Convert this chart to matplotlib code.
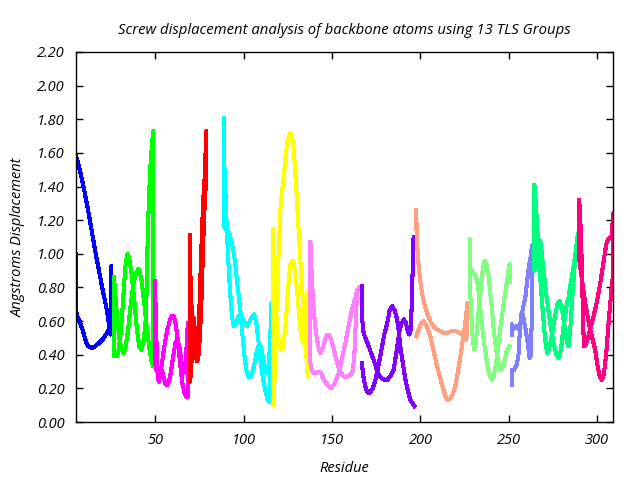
import matplotlib
matplotlib.use("Agg")
import matplotlib.pyplot as plt

plt.rcParams['font.family'] = ['Open Sans', 'DejaVu Sans']
plt.rcParams['font.style'] = 'italic'

TITLE = "Screw displacement analysis of backbone atoms using 13 TLS Groups"
X_LABEL = "Residue"
Y_LABEL = "Angstroms Displacement"

X_TICKS = [50, 100, 150, 200, 250, 300]
Y_TICKS = [0.0, 0.2, 0.4, 0.6, 0.8, 1.0, 1.2, 1.4, 1.6, 1.8, 2.0, 2.2]

# (residue, displacement) traces for each TLS group, in drawing order
blue = [(5.0, 1.58), (6, 1.55), (8, 1.46), (10, 1.36), (12, 1.25), (14, 1.13), (16, 1.01),
        (18, 0.90), (20, 0.79), (22, 0.69), (23, 0.63), (24, 0.56), (24.5, 0.52), (25, 0.93),
        (25, 0.55), (24, 0.56), (23, 0.54), (22, 0.52), (20, 0.49), (18, 0.47), (16, 0.45),
        (14, 0.44), (12, 0.45), (11, 0.47), (10, 0.50), (9, 0.54), (8, 0.57), (7, 0.60),
        (6, 0.62), (5.4, 0.65), (5.2, 0.60), (5.2, 1.00)]

green = [(26.5, 0.86), (27.5, 0.72), (28.5, 0.60), (29.5, 0.50), (30.5, 0.44), (31.8, 0.41),
         (33, 0.44), (34.5, 0.55), (36, 0.70), (37.5, 0.82), (39, 0.89), (40.6, 0.91), (42, 0.85),
         (43.5, 0.72), (45, 0.57), (46.5, 0.44), (47.8, 0.36), (48.7, 0.33),
         (48.7, 1.73), (47.8, 1.62), (47, 1.50), (46.2, 1.30), (45.5, 1.05), (45, 0.78),
         (44.3, 0.58), (43.3, 0.48), (42, 0.43), (40.8, 0.45), (39.5, 0.55), (38, 0.72),
         (36.5, 0.88), (35.2, 0.97), (34, 1.00), (33, 0.93), (32, 0.78), (31, 0.62), (30, 0.50),
         (29, 0.42), (28, 0.39), (26.5, 0.39), (26.5, 0.86)]

magenta = [(49.7, 0.84), (50.2, 0.62), (50.7, 0.42), (51.2, 0.29), (51.8, 0.24), (52.6, 0.27),
           (53.8, 0.36), (55, 0.45), (56.5, 0.54), (58, 0.60), (59.3, 0.63), (60.4, 0.63),
           (61.5, 0.58), (62.8, 0.47), (64, 0.34), (65.2, 0.23), (66.5, 0.17), (67.6, 0.15),
           (68.3, 0.15), (68.3, 0.59), (67.6, 0.45), (66.8, 0.33), (66, 0.29), (65, 0.33),
           (63.8, 0.43), (62.5, 0.49), (61.3, 0.47), (60, 0.39), (58.8, 0.30), (57.6, 0.24),
           (56.5, 0.22), (55.5, 0.23), (54.5, 0.27), (53.5, 0.31), (52.5, 0.31), (51.5, 0.29),
           (50.5, 0.31), (49.7, 0.35), (49.7, 0.84)]

red = [(69.3, 1.11), (69.6, 0.95), (70, 0.78), (70.5, 0.66), (71, 0.57), (71.7, 0.48),
       (72.3, 0.40), (73, 0.38), (73.7, 0.40), (74.3, 0.52), (75, 0.72), (75.7, 0.95),
       (76.4, 1.15), (77, 1.32), (77.6, 1.40), (78.2, 1.55), (78.7, 1.73),
       (78.7, 1.45), (78.3, 1.38), (77.8, 1.28), (77.2, 1.12), (76.6, 0.92), (76, 0.72),
       (75.4, 0.57), (74.8, 0.45), (74.2, 0.38), (73.5, 0.36), (72.8, 0.42), (72.2, 0.55),
       (71.6, 0.62), (71, 0.52), (70.5, 0.38), (70, 0.28), (69.5, 0.24), (69.3, 1.11)]

cyan = [(88.7, 1.81), (88.7, 1.61), (89.3, 1.45), (89.8, 1.30), (90.4, 1.15), (91, 1.00),
        (91.8, 0.85), (92.6, 0.72), (93.4, 0.62), (94.3, 0.57), (95.5, 0.58), (96.8, 0.63),
        (98.1, 0.64), (100, 0.60), (101.9, 0.57), (103.8, 0.61), (105.7, 0.64), (107, 0.60),
        (108.3, 0.48), (109.6, 0.35), (111, 0.25), (112.5, 0.17), (113.6, 0.13), (114.5, 0.12),
        (115.7, 0.71), (115.2, 0.57), (114.6, 0.42), (113.8, 0.32), (112.8, 0.29), (111.7, 0.33),
        (110.6, 0.40), (109.5, 0.45), (108.5, 0.46), (107.5, 0.43), (106.3, 0.36), (105, 0.30),
        (103.8, 0.27), (102.5, 0.27), (101.4, 0.31), (100.3, 0.40), (99.2, 0.52), (98.1, 0.66),
        (97, 0.76), (96, 0.85), (95.2, 0.94), (94.3, 1.00), (93, 1.08), (91.8, 1.12),
        (90.5, 1.14), (89.5, 1.15), (88.7, 1.17), (88.7, 1.81)]

yellow = [(116.4, 1.15), (117.4, 0.86), (118.5, 0.63), (119.6, 0.50), (120.8, 0.43),
          (121.7, 0.43), (122.6, 0.48), (123.6, 0.57), (124.6, 0.72), (125.5, 0.86),
          (126.5, 0.94), (127.7, 0.96), (128.8, 0.91), (129.8, 0.82), (130.8, 0.70),
          (131.7, 0.59), (132.7, 0.50), (133.6, 0.47), (134.3, 0.52), (134.9, 0.59),
          (135.9, 0.70), (136.8, 0.80),
          (136.4, 0.27), (135.9, 0.31), (135, 0.47), (134, 0.63), (133, 0.80), (132, 0.96),
          (131.1, 1.13), (130.2, 1.30), (129.2, 1.47), (128.3, 1.62), (127.4, 1.69),
          (126.4, 1.72), (125.5, 1.70), (124.5, 1.66), (123.5, 1.56), (122.6, 1.46),
          (121.7, 1.37), (120.8, 1.28), (119.8, 1.02), (118.9, 0.82), (118, 0.47), (117, 0.11),
          (116.5, 0.10), (116.4, 1.15)]

pink = [(137.7, 1.07), (138.3, 0.90), (139, 0.76), (139.6, 0.67), (140.5, 0.56), (141.5, 0.49),
        (142.5, 0.43), (143.4, 0.41), (144.5, 0.43), (146, 0.49), (147, 0.52), (148.1, 0.52),
        (149.5, 0.49), (151, 0.43), (152.8, 0.35), (154.5, 0.30), (156.6, 0.27), (158.5, 0.27),
        (160.3, 0.28), (161.5, 0.30), (162.5, 0.38), (163.2, 0.55), (163.8, 0.70), (164.3, 0.78),
        (165.4, 0.80), (164.8, 0.79), (164.1, 0.78), (163, 0.73), (161.3, 0.67), (159.5, 0.58),
        (157.5, 0.47), (155.6, 0.38), (153.7, 0.29), (151.5, 0.23), (149.4, 0.20), (147.5, 0.22),
        (145.2, 0.25), (143.8, 0.29), (142.4, 0.30), (141, 0.29), (139.6, 0.29), (138.5, 0.31),
        (137.7, 0.35), (137.7, 1.07)]

purple_a = [(166.9, 0.81), (166.9, 0.62), (167.8, 0.53), (169.2, 0.49), (170.7, 0.45), (172, 0.41),
            (173.5, 0.37), (175, 0.32), (176.4, 0.28), (178, 0.26), (179.5, 0.25), (181.1, 0.25),
            (182.8, 0.27), (184.8, 0.31), (186.5, 0.42), (187.8, 0.52), (189, 0.58), (190.5, 0.61),
            (191.8, 0.59), (193, 0.53), (193.8, 0.52), (194.6, 0.56), (195.2, 0.75), (195.7, 0.95),
            (196.1, 1.10)]
purple_b = [(196.5, 0.095), (195.5, 0.11), (194.3, 0.13), (193, 0.18), (191.5, 0.25), (190, 0.35),
            (188.6, 0.45), (187.6, 0.55), (186.8, 0.61), (185.5, 0.66), (184, 0.69), (182.5, 0.66),
            (181, 0.58), (179.5, 0.52), (178.3, 0.45), (176.5, 0.35), (174.5, 0.25), (173, 0.20),
            (171.1, 0.17), (169.8, 0.18), (168.8, 0.21), (167.5, 0.28), (166.9, 0.35)]

salmon_a = [(197.7, 1.26), (197.8, 1.10), (198.5, 1.00), (199, 0.92), (200, 0.83), (201, 0.76),
            (202.5, 0.69), (204, 0.64), (206, 0.59), (208, 0.56), (211, 0.54), (213, 0.53),
            (215, 0.53), (217.5, 0.54), (219.7, 0.54), (221.5, 0.535), (223.5, 0.52), (225, 0.50),
            (226, 0.49), (226.4, 0.60), (226.6, 0.71),
            (226.4, 0.705), (226, 0.645), (225, 0.56), (224, 0.49), (222.6, 0.39), (221.2, 0.30),
            (219.7, 0.21), (218, 0.16), (216.8, 0.14), (215.4, 0.13), (214, 0.16), (212.5, 0.21),
            (211, 0.27), (209.4, 0.33), (207.5, 0.42), (205.6, 0.51), (203.5, 0.57), (201.8, 0.60),
            (200.5, 0.59), (199, 0.55), (197.7, 0.51)]

light_green = [(250.5, 0.45), (249, 0.43), (247.5, 0.36), (246.3, 0.32), (245.2, 0.31), (244, 0.36),
               (242.5, 0.46), (241.4, 0.55), (240.4, 0.68), (239.5, 0.77), (238.5, 0.88),
               (237.3, 0.94), (236.3, 0.96), (235.3, 0.91), (234.2, 0.79), (233, 0.67), (232, 0.55),
               (231.2, 0.46), (230.5, 0.43), (229.8, 0.47), (229.2, 0.55), (228.5, 0.70),
               (227.8, 0.845), (227.8, 1.09), (227.8, 0.93), (229, 0.90), (230.5, 0.88),
               (232, 0.845), (233, 0.77), (233.9, 0.67), (234.8, 0.58), (235.8, 0.49), (237, 0.40),
               (238.3, 0.31), (239.5, 0.27), (240.5, 0.25), (241.5, 0.27), (242.5, 0.33),
               (243.3, 0.39), (244.3, 0.48), (245.5, 0.58), (246.8, 0.68), (248, 0.77),
               (249.3, 0.86), (250.5, 0.94), (250.5, 0.83)]

slate = [(251.8, 0.22), (251.8, 0.31), (253, 0.31), (254.5, 0.34), (255.5, 0.40), (256.3, 0.55),
         (257.3, 0.64), (258.5, 0.70), (259.5, 0.75), (260.5, 0.85), (261.5, 0.93), (262.5, 0.99),
         (263.1, 1.05), (263.1, 0.65), (262.5, 0.40), (261.8, 0.38), (261, 0.45), (260, 0.52),
         (259, 0.58), (258, 0.64), (257.3, 0.65), (256.5, 0.58), (255.5, 0.55), (254.5, 0.57),
         (253.5, 0.56), (252.5, 0.55), (251.8, 0.58), (251.8, 0.52)]

spring = [(264.5, 1.41), (265.3, 1.30), (266, 1.18), (267, 0.98), (268, 0.83), (269, 0.69),
          (270, 0.56), (271, 0.45), (271.8, 0.41), (273, 0.44), (274.5, 0.52), (276, 0.62),
          (277.5, 0.70), (278.7, 0.72), (280, 0.68), (281, 0.61), (282.5, 0.50), (283.8, 0.45),
          (284.8, 0.55), (285.7, 0.70), (286.7, 0.85), (287.6, 0.98), (288.5, 1.07), (289.1, 1.12),
          (288, 1.02), (286.6, 0.92), (285, 0.82), (283.8, 0.74), (282.9, 0.705), (282, 0.64),
          (281, 0.57), (280, 0.47), (279, 0.40), (278.2, 0.38), (277, 0.40), (276, 0.44),
          (275.3, 0.47), (274, 0.55), (272.4, 0.665), (271, 0.78), (269.7, 0.90), (268.7, 1.00),
          (267.8, 1.08), (267, 1.08), (266, 1.03), (265, 0.93), (264.5, 0.90), (264.5, 1.41)]

deep_pink = [(289.9, 1.32), (290.5, 1.20), (291.2, 0.98), (291.8, 0.72), (292.5, 0.45), (293.5, 0.46),
             (295.1, 0.51), (296.5, 0.57), (298, 0.63), (300, 0.72), (301.7, 0.82), (303.2, 0.92),
             (304.6, 1.02), (305.5, 1.07), (306.5, 1.09), (307.5, 1.10), (308.4, 1.11), (309, 1.24),
             (309, 0.87), (308.4, 0.82), (307.4, 0.70), (306.5, 0.59), (305.5, 0.45), (304.6, 0.35),
             (303.7, 0.28), (302.7, 0.25), (301.5, 0.27), (300.3, 0.33), (298.9, 0.43), (297.5, 0.49),
             (296.1, 0.55), (294.6, 0.63), (293.3, 0.705), (292.3, 0.78), (291.4, 0.845),
             (290.5, 0.92), (289.9, 0.97), (289.9, 1.32)]

TRACES = [
    (blue, '#0000ff'), (green, '#00ff00'), (magenta, '#ff00ff'), (red, '#ff0000'),
    (cyan, '#00ffff'), (yellow, '#ffff00'), (pink, '#ff80ff'),
    (purple_a, '#8000ff'), (purple_b, '#8000ff'), (salmon_a, '#ffa080'),
    (light_green, '#80ff80'), (slate, '#8080ff'), (spring, '#00ff80'), (deep_pink, '#ff0080'),
]


def main():
    fig = plt.figure(figsize=(6.4, 4.8), dpi=100)
    ax = fig.add_axes([76 / 640, 1 - 422 / 480, (613 - 76) / 640, (422 - 52) / 480])

    for points, color in TRACES:
        xs = [p[0] for p in points]
        ys = [p[1] for p in points]
        ax.plot(xs, ys, color=color, lw=2.2, antialiased=False)

    ax.set_xlim(5, 309)
    ax.set_ylim(0, 2.2)
    ax.set_xticks(X_TICKS)
    ax.set_yticks(Y_TICKS)
    ax.set_yticklabels([f"{v:.2f}" for v in Y_TICKS])
    ax.tick_params(direction='in', length=5, width=1, top=True, right=True, labelsize=10.5,
                   pad=8)
    for spine in ax.spines.values():
        spine.set_linewidth(1)

    ax.set_xlabel(X_LABEL, fontsize=10.5, labelpad=9)
    ax.set_ylabel(Y_LABEL, fontsize=10.5, labelpad=8)
    ax.set_title(TITLE, fontsize=10.7, pad=13)

    fig.savefig("out.png", dpi=100)


if __name__ == '__main__':
    main()
